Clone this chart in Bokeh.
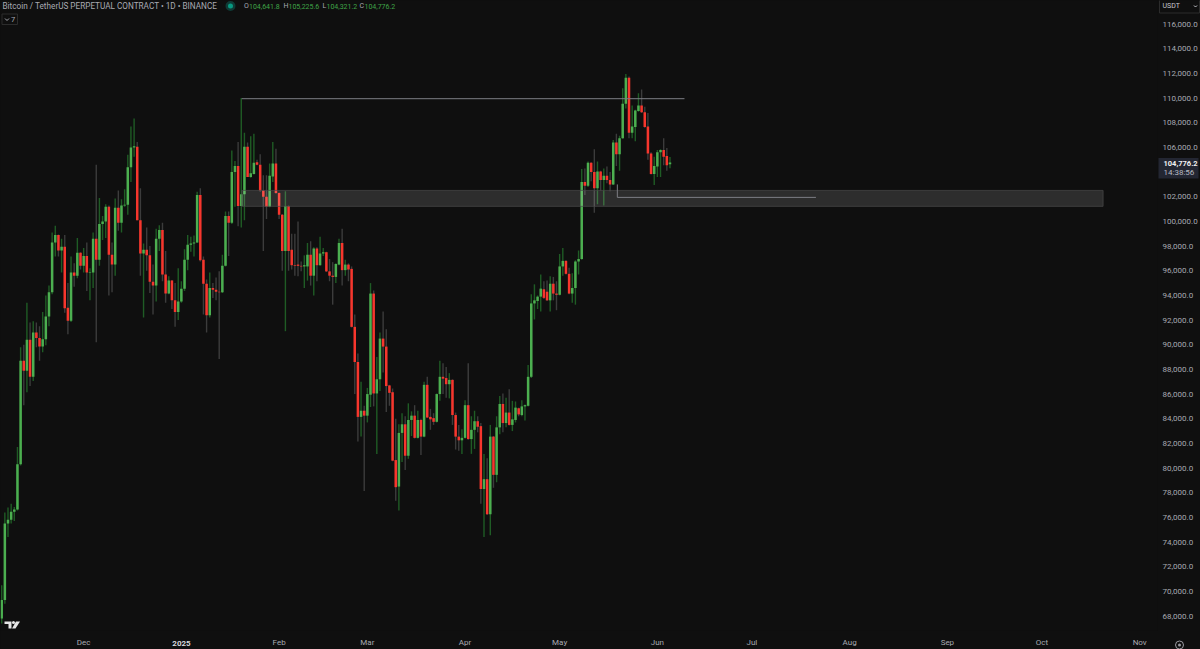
from bokeh.plotting import figure
from bokeh.models import (Label, LinearAxis, FixedTicker, Range1d, NumeralTickFormatter)
from bokeh.embed import file_html
from bokeh.resources import INLINE

W, H = 1200, 649
FRAME_W, FRAME_H = 1158, 632

# Daily candles, thousands of USDT, first bar 5 Nov 2024
open_k = [
 67.8,69.3,75.5,75.8,76.45,76.65,80.3,88.7,87.9,90.4,87.4,91.0,90.55,89.85,90.45,92.3,94.25,98.3,98.9,97.65,
 97.95,93.0,91.95,95.85,95.6,97.45,96.4,97.2,95.85,95.85,98.6,96.9,99.8,100.0,101.2,97.3,96.5,101.1,99.9,101.3,
 101.35,104.4,106.0,106.05,100.1,97.4,97.7,97.25,95.1,94.8,98.6,99.3,95.7,94.15,95.2,93.6,92.65,93.5,94.55,96.9,
 98.1,98.2,98.3,102.15,96.9,94.95,92.4,94.6,94.45,94.3,94.25,96.4,100.45,99.9,104.0,104.5,101.25,102.2,106.05,103.6,
 103.85,104.8,104.6,102.5,102.0,101.2,103.65,104.7,102.3,100.55,97.6,101.25,97.7,96.45,96.5,96.4,96.35,96.35,97.3,95.6,
 97.8,96.45,97.4,97.5,95.95,95.6,95.5,96.5,98.25,96.05,96.5,96.15,91.45,88.6,84.15,84.65,84.25,85.95,94.15,86.05,
 87.2,90.5,89.85,86.7,86.15,80.65,78.5,82.85,83.55,81.0,83.9,84.25,82.45,83.9,82.55,86.75,84.15,84.05,83.75,86.0,
 87.4,87.3,86.8,87.15,84.3,82.55,82.25,82.45,85.1,82.35,83.1,83.8,83.4,78.3,79.1,76.25,82.55,79.45,83.3,85.2,
 83.65,84.5,83.5,83.9,84.85,84.3,85.0,85.05,87.4,93.35,93.55,93.9,94.5,94.3,93.6,94.95,94.15,94.05,96.35,96.8,
 95.75,94.15,94.6,96.75,96.95,103.2,102.9,104.75,104.0,102.7,104.05,103.35,103.7,103.35,103.0,106.4,105.45,106.75,109.55,111.65,
 107.2,107.65,108.95,109.4,108.85,107.7,105.5,103.85,104.45,105.6,105.8,105.3,104.6418]
high_k = [
 70.5,76.4,76.8,77.1,76.85,81.7,89.8,90.0,93.4,91.8,91.9,91.8,91.5,92.65,94.0,94.8,99.1,99.65,98.95,98.6,
 98.9,95.0,97.15,96.6,98.65,97.5,97.85,98.3,96.2,99.1,104.6,101.9,100.45,101.4,101.3,98.3,101.85,102.5,101.8,102.6,
 105.4,107.7,108.35,106.45,102.7,98.2,99.5,98.0,96.5,99.4,99.7,99.9,97.6,95.55,95.25,95.0,96.2,95.15,97.75,98.9,
 98.75,98.85,102.4,102.7,97.15,95.3,95.85,95.0,95.45,95.95,97.3,100.8,100.8,105.75,104.9,106.45,110.0,107.2,106.4,106.9,
 107.1,105.0,105.45,103.75,103.75,104.7,106.45,105.9,102.35,100.6,102.45,101.3,99.0,99.0,100.0,96.75,97.25,98.25,98.4,97.9,
 97.9,98.75,97.85,97.55,96.95,96.7,96.6,98.6,99.4,96.9,96.6,96.35,92.45,89.3,87.0,85.05,86.5,95.0,94.4,89.0,
 91.0,92.7,91.25,86.75,86.45,84.0,83.55,84.45,84.2,85.25,84.6,85.1,84.65,84.0,87.0,87.4,84.8,84.45,86.05,88.7,
 88.5,88.2,87.7,87.2,84.5,83.5,83.15,85.5,88.5,84.2,84.65,84.2,83.65,81.15,80.8,83.5,82.6,84.2,85.85,86.05,
 85.7,86.4,85.45,85.4,84.9,85.5,85.15,88.35,94.1,94.9,94.0,95.7,95.15,95.2,95.55,95.5,95.15,97.35,97.85,96.85,
 96.25,95.8,96.85,97.65,104.25,104.3,104.85,104.8,105.85,104.85,104.1,104.3,104.45,104.0,106.6,107.1,106.95,110.8,111.95,111.75,
 109.4,109.05,110.4,110.7,109.3,108.8,105.6,105.25,105.8,105.85,106.75,105.95,105.2256]
low_k = [
 67.4,69.0,74.4,75.5,75.7,76.55,80.2,85.1,86.15,86.65,87.05,89.8,88.7,89.4,89.95,91.5,94.1,97.15,97.15,95.85,
 92.6,90.85,91.85,94.7,95.4,96.1,95.85,94.35,93.6,94.6,90.2,96.4,98.5,98.65,94.0,94.25,95.6,99.25,99.1,101.2,
 100.55,103.2,105.25,100.1,95.6,92.2,96.0,94.2,92.45,93.5,97.6,95.15,93.4,94.1,92.9,91.45,92.0,93.4,94.35,96.05,
 97.55,97.15,98.25,96.75,92.45,91.0,92.2,93.8,93.6,88.85,94.2,96.35,97.2,99.8,101.2,99.6,99.5,100.1,103.6,103.55,
 103.8,104.55,102.4,97.6,100.2,101.15,103.2,102.25,100.2,96.0,91.1,96.0,96.1,95.6,95.55,95.95,94.6,95.2,94.8,94.0,
 95.15,96.4,97.2,95.9,95.15,93.25,95.0,96.45,94.8,95.6,95.15,91.4,86.0,82.15,82.55,78.15,83.7,84.95,85.0,81.15,
 86.25,87.75,84.55,85.05,80.55,77.35,76.55,80.5,79.85,80.75,82.6,82.4,82.4,81.05,82.5,84.05,83.1,83.5,83.7,85.45,
 86.0,85.7,85.65,83.5,81.5,81.4,81.15,82.4,82.3,81.15,81.55,82.9,77.1,74.4,76.2,74.55,78.4,78.85,82.75,82.9,
 83.3,83.45,83.0,83.7,84.2,84.2,83.85,85.0,87.3,92.05,92.9,92.7,93.7,93.55,92.7,93.6,92.8,94.0,95.6,95.7,
 94.1,93.4,93.25,95.7,96.9,102.15,102.8,103.25,100.7,101.4,102.5,101.3,103.1,102.45,102.95,104.5,104.1,106.7,109.15,106.75,
 106.75,106.5,108.9,108.8,107.6,105.0,103.8,102.95,103.6,103.6,104.55,104.1,104.3212]
close_k = [
 69.3,75.5,75.8,76.45,76.65,80.3,88.7,87.9,90.4,87.4,91.0,90.55,89.85,90.45,92.3,94.25,98.3,98.9,97.65,97.95,
 92.95,91.95,95.85,95.6,97.45,96.4,97.2,95.85,95.9,98.6,96.9,99.8,100.0,101.2,97.3,96.5,101.1,99.9,101.3,101.35,
 104.4,106.0,106.1,100.1,97.4,97.7,97.25,95.1,94.8,98.6,99.3,95.7,94.15,95.2,93.6,92.65,93.5,94.55,96.9,98.1,
 98.2,98.3,102.15,96.85,94.95,92.4,94.6,94.45,94.3,94.25,96.4,100.45,99.9,104.0,104.5,101.25,102.2,106.05,103.6,103.9,
 104.75,104.6,102.5,102.0,101.2,103.7,104.7,102.3,100.55,97.6,101.25,97.6,96.45,96.4,96.4,96.35,96.45,97.3,95.6,97.8,
 96.45,97.4,97.5,95.95,95.6,95.5,96.55,98.25,96.05,96.5,96.1,91.45,88.6,84.15,84.65,84.25,86.0,94.15,86.05,87.2,
 90.5,89.85,86.65,86.1,80.6,78.45,82.85,83.55,81.0,83.9,84.25,82.45,83.9,82.55,86.75,84.1,83.95,83.75,86.0,87.4,
 87.25,86.8,87.15,84.3,82.55,82.25,82.45,85.1,82.35,83.1,83.8,83.35,78.3,79.1,76.25,82.55,79.45,83.3,85.2,83.65,
 84.5,83.5,83.95,84.9,84.35,85.0,85.1,87.4,93.35,93.6,93.9,94.55,93.8,93.6,94.95,94.15,94.05,96.35,96.8,95.75,
 94.15,94.6,96.75,96.95,103.2,102.9,104.75,104.0,102.7,104.05,103.35,103.7,103.35,103.0,106.4,105.45,106.75,109.55,111.65,107.2,
 107.7,109.0,109.4,108.85,107.65,105.5,103.85,104.5,105.6,105.8,105.25,104.55,104.7762]

price_ticks = [68000 + 2000 * n for n in range(25)]
month_days = [26, 88, 116, 147, 177, 208, 238, 269, 300, 330, 361]
month_names = ["Dec", "Feb", "Mar", "Apr", "May", "Jun", "Jul", "Aug", "Sep", "Oct", "Nov"]
year_name = "2025"

zone_top, zone_bottom, zone_from, zone_to = 102516, 101223, 76.16, 349.4
line_high, line_high_from, line_high_to = 109953, 76.16, 216.6
line_low, line_low_corner, line_low_top, line_low_to = 101950, 195.3, 103000, 258.3

BG, GREEN, RED, GREEN_W, RED_W = "#0f0f0f", "#4caf50", "#f7362d", "#1f5c25", "#3c3c3c"
TXT = "#a8aab2"

n = len(close_k)
assert all(len(a) == n for a in (open_k, high_k, low_k)), (len(open_k), len(high_k), len(low_k), n)

# pixel -> data range limits
PX_PER_DAY, PX_AT_0 = 3.155, 1.2
PX_PER_USD, Y_AT_68K = 0.012371, 617.5
fx = lambda px: (px - PX_AT_0) / PX_PER_DAY
fy = lambda py: 68000 + (Y_AT_68K - py) / PX_PER_USD

p = figure(width=W, height=H, output_backend="svg", toolbar_location=None,
           x_range=Range1d(fx(0), fx(FRAME_W)), y_range=Range1d(fy(FRAME_H), fy(0)),
           min_border_left=0, min_border_top=0, min_border_right=W - FRAME_W, min_border_bottom=H - FRAME_H,
           background_fill_color=BG, border_fill_color=BG, outline_line_color=None,
           x_axis_location="below", y_axis_location=None)
p.styles = {"position": "fixed", "left": "0", "top": "0", "background-color": BG}
p.grid.visible = False

yax = LinearAxis(ticker=FixedTicker(ticks=price_ticks),
                 formatter=NumeralTickFormatter(format="0,0.0"),
                 major_tick_line_color=None, minor_tick_line_color=None, axis_line_color=None,
                 major_tick_out=0, major_tick_in=0, minor_tick_out=0, minor_tick_in=0,
                 major_label_text_color=TXT, major_label_text_font="Roboto",
                 major_label_text_font_size="8px", major_label_standoff=5)
p.add_layout(yax, "right")

xax = p.xaxis[0]
xax.ticker = FixedTicker(ticks=month_days)
xax.major_label_overrides = dict(zip(month_days, month_names))
xax.major_tick_line_color = None
xax.minor_tick_line_color = None
xax.axis_line_color = None
xax.major_tick_out = 0
xax.major_tick_in = 0
xax.minor_tick_out = 0
xax.minor_tick_in = 0
xax.major_label_text_color = TXT
xax.major_label_text_font = "Roboto"
xax.major_label_text_font_size = "8px"
xax.major_label_standoff = 7

days = list(range(n))
up = [c >= o for o, c in zip(open_k, close_k)]
wick_colors = [GREEN_W if u else RED_W for u in up]
body_colors = [GREEN if u else RED for u in up]
high = [v * 1000 for v in high_k]
low = [v * 1000 for v in low_k]
body_top = [max(o, c) * 1000 for o, c in zip(open_k, close_k)]
body_bot = [min(o, c) * 1000 for o, c in zip(open_k, close_k)]

p.segment(days, high, days, low, line_color=wick_colors, line_width=1.4)
p.vbar(days, width=0.8, top=body_top, bottom=body_bot, fill_color=body_colors, line_color=None)

p.quad(left=[zone_from], right=[zone_to], top=[zone_top], bottom=[zone_bottom],
       fill_color="#ffffff", fill_alpha=0.125, line_color="#4a4a4a", line_alpha=0.7, line_width=1)
p.line([line_high_from, line_high_to], [line_high, line_high], line_color="#7d7e84", line_width=1)
p.line([line_low_corner, line_low_corner, line_low_to], [line_low_top, line_low, line_low],
       line_color="#7d7e84", line_width=1)

# overlay for chart furniture that sits outside the plot frame (coordinates are pixels)
q = figure(width=W, height=H, output_backend="svg", toolbar_location=None,
           x_range=Range1d(0, W), y_range=Range1d(H, 0),
           min_border_left=0, min_border_top=0, min_border_right=0, min_border_bottom=0,
           background_fill_color=None, border_fill_color=None, outline_line_color=None,
           x_axis_location=None, y_axis_location=None)
q.styles = {"position": "fixed", "left": "0", "top": "0"}
q.grid.visible = False

def text(px, py, s, color=TXT, size="8px", style="normal", align="left"):
    q.add_layout(Label(x=px, y=py, text=s, text_color=color, text_font="Roboto", text_font_size=size,
                       text_font_style=style, text_align=align, text_baseline="middle"))

text(181, 643, year_name, color="#d8d9de", style="bold", align="center")
text(2, 5.5, "Bitcoin / TetherUS PERPETUAL CONTRACT • 1D • BINANCE", size="8.2px")

q.scatter([230], [5.5], size=10, fill_color="#0f3b36", line_color=None)
q.scatter([230], [5.5], size=5, fill_color="#089981", line_color=None)

VAL = "#3fa447"
for px, letter, vx, val in [(243.5, "O", 248.5, "104,641.8"), (283, "H", 288, "105,225.6"),
                            (322, "L", 326, "104,321.2"), (359, "C", 364, "104,776.2")]:
    text(px, 5.5, letter, size="7px")
    text(vx, 5.5, val, color=VAL, size="7px")

# indicator toggle
q.quad(left=[1.5], right=[17], top=[13.5], bottom=[24], fill_color=BG, line_color="#2c2c2c", line_width=1)
q.line([4.5, 6.5, 8.5], [18, 20, 18], line_color=TXT, line_width=1)
text(10.5, 19, "7", size="7.5px")

# currency selector
q.quad(left=[1159], right=[1199], top=[-2], bottom=[12.5], fill_color=BG, line_color="#2c2c2c", line_width=1)
text(1162, 5.5, "USDT", color="#c8c9ce", size="7px")
q.line([1193.5, 1195, 1196.5], [5, 6.5, 5], line_color="#c8c9ce", line_width=1)

# last price tag
q.quad(left=[1158], right=[1198], top=[157.5], bottom=[178], fill_color="#232632", line_color=None)
text(1163, 162.5, "104,776.2", color="#f0f0f0", size="7.5px", style="bold")
text(1163, 172, "14:38:56", color="#b8bac2", size="8px")

# logo
q.patches([[4, 11, 11, 8, 8, 4], [15.5, 19.5, 15, 11.5]],
          [[621, 621, 628, 628, 623.5, 623.5], [621, 621, 628, 628]],
          fill_color="#e6e6e6", line_color=None)
q.scatter([13], [622], size=3, fill_color="#e6e6e6", line_color=None)

# settings icon
q.scatter([1179], [644.5], size=8, fill_color=None, line_color="#9a9aa0", line_width=1)
q.scatter([1179], [644.5], size=3, fill_color="#9a9aa0", line_color=None)

open("out.html", "w").write(file_html((p, q), INLINE))
